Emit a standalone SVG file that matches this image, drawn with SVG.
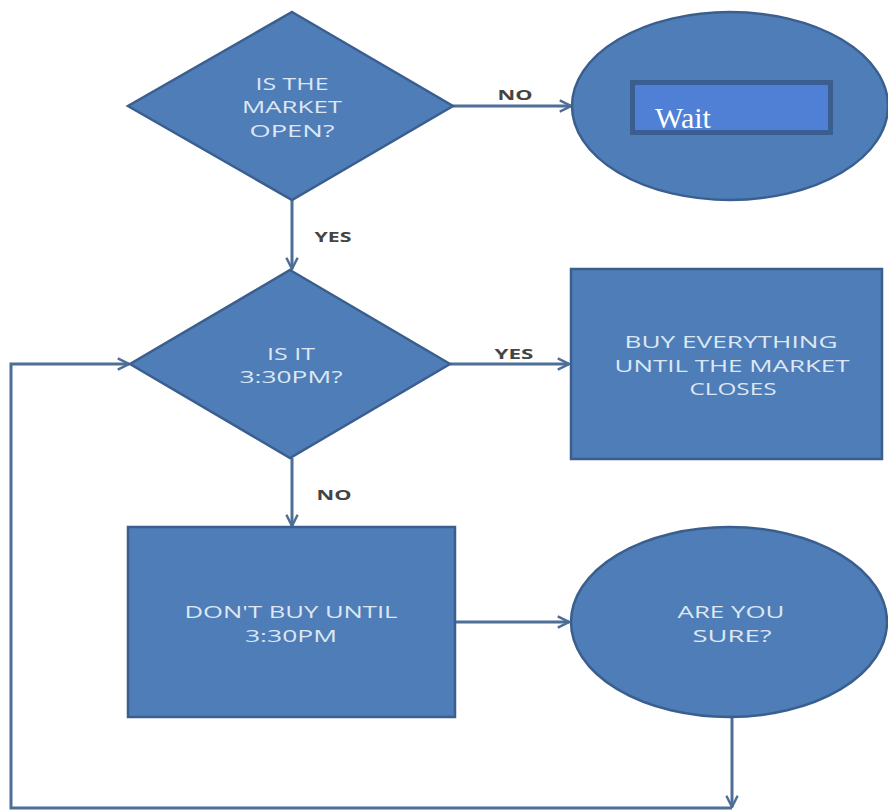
<svg xmlns="http://www.w3.org/2000/svg" width="888" height="810" viewBox="0 0 888 810">
<style>
.shape{fill:#4F7DB8;stroke:#3A5F8F;stroke-width:2.5}
.nt{font-family:"Open Sans","Liberation Sans",sans-serif;font-size:17px;fill:#DCE7F3;text-anchor:middle}
.lbl{font-family:"Open Sans","Liberation Sans",sans-serif;font-size:15px;font-weight:bold;fill:#444;text-anchor:middle}
.conn{fill:none;stroke:#4F6E96;stroke-width:3}
</style>
<defs>
<marker id="arr" viewBox="0 0 12 12" refX="11" refY="6" markerWidth="4.5" markerHeight="4.5" orient="auto" markerUnits="strokeWidth">
<path d="M1,1 L11,6 L1,11" fill="none" stroke="#4F6E96" stroke-width="2.2"/>
</marker>
</defs>
<rect width="888" height="810" fill="#FFFFFF"/>
<g id="connectors">
<line class="conn" x1="453" y1="106" x2="571" y2="106" marker-end="url(#arr)"/>
<line class="conn" x1="292" y1="200" x2="292" y2="269" marker-end="url(#arr)"/>
<line class="conn" x1="450" y1="364" x2="569" y2="364" marker-end="url(#arr)"/>
<line class="conn" x1="292" y1="458" x2="292" y2="526" marker-end="url(#arr)"/>
<line class="conn" x1="455" y1="622" x2="569" y2="622" marker-end="url(#arr)"/>
<line class="conn" x1="732" y1="717" x2="732" y2="807" marker-end="url(#arr)"/>
<polyline class="conn" points="732,808 11,808 11,364 129,364" marker-end="url(#arr)"/>
<text class="lbl" x="515" y="100" textLength="35" lengthAdjust="spacingAndGlyphs">NO</text>
<text class="lbl" x="333" y="242" textLength="37" lengthAdjust="spacingAndGlyphs">YES</text>
<text class="lbl" x="514" y="359" textLength="39" lengthAdjust="spacingAndGlyphs">YES</text>
<text class="lbl" x="334" y="500" textLength="35" lengthAdjust="spacingAndGlyphs">NO</text>
</g>
<g id="market-open">
<polygon class="shape" points="292,12 453,106 292,200 128,106"/>
<text class="nt" x="292" y="90" textLength="73" lengthAdjust="spacingAndGlyphs">IS THE</text>
<text class="nt" x="292" y="113" textLength="100" lengthAdjust="spacingAndGlyphs">MARKET</text>
<text class="nt" x="292" y="137" textLength="85" lengthAdjust="spacingAndGlyphs">OPEN?</text>
</g>
<g id="wait">
<ellipse class="shape" cx="730" cy="106" rx="158" ry="94"/>
<rect x="632.5" y="82.5" width="198" height="50" fill="#507FD6" stroke="#3B5E91" stroke-width="5"/>
<text x="655" y="128" font-family="Liberation Serif, serif" font-size="30" fill="#FFFFFF">Wait</text>
</g>
<g id="is-it-330">
<polygon class="shape" points="290,270 450,364 290,458 130,364"/>
<text class="nt" x="291" y="360" textLength="48" lengthAdjust="spacingAndGlyphs">IS IT</text>
<text class="nt" x="291" y="383" textLength="103" lengthAdjust="spacingAndGlyphs">3:30PM?</text>
</g>
<g id="buy-everything">
<rect class="shape" x="571" y="269" width="311" height="190"/>
<text class="nt" x="731" y="348" textLength="213" lengthAdjust="spacingAndGlyphs">BUY EVERYTHING</text>
<text class="nt" x="732" y="372" textLength="235" lengthAdjust="spacingAndGlyphs">UNTIL THE MARKET</text>
<text class="nt" x="733" y="395" textLength="87" lengthAdjust="spacingAndGlyphs">CLOSES</text>
</g>
<g id="dont-buy">
<rect class="shape" x="128" y="527" width="327" height="190"/>
<text class="nt" x="291" y="618" textLength="213" lengthAdjust="spacingAndGlyphs">DON'T BUY UNTIL</text>
<text class="nt" x="291" y="642" textLength="92" lengthAdjust="spacingAndGlyphs">3:30PM</text>
</g>
<g id="are-you-sure">
<ellipse class="shape" cx="729" cy="622" rx="158" ry="95"/>
<text class="nt" x="731" y="618" textLength="107" lengthAdjust="spacingAndGlyphs">ARE YOU</text>
<text class="nt" x="732" y="642" textLength="79" lengthAdjust="spacingAndGlyphs">SURE?</text>
</g>
</svg>
